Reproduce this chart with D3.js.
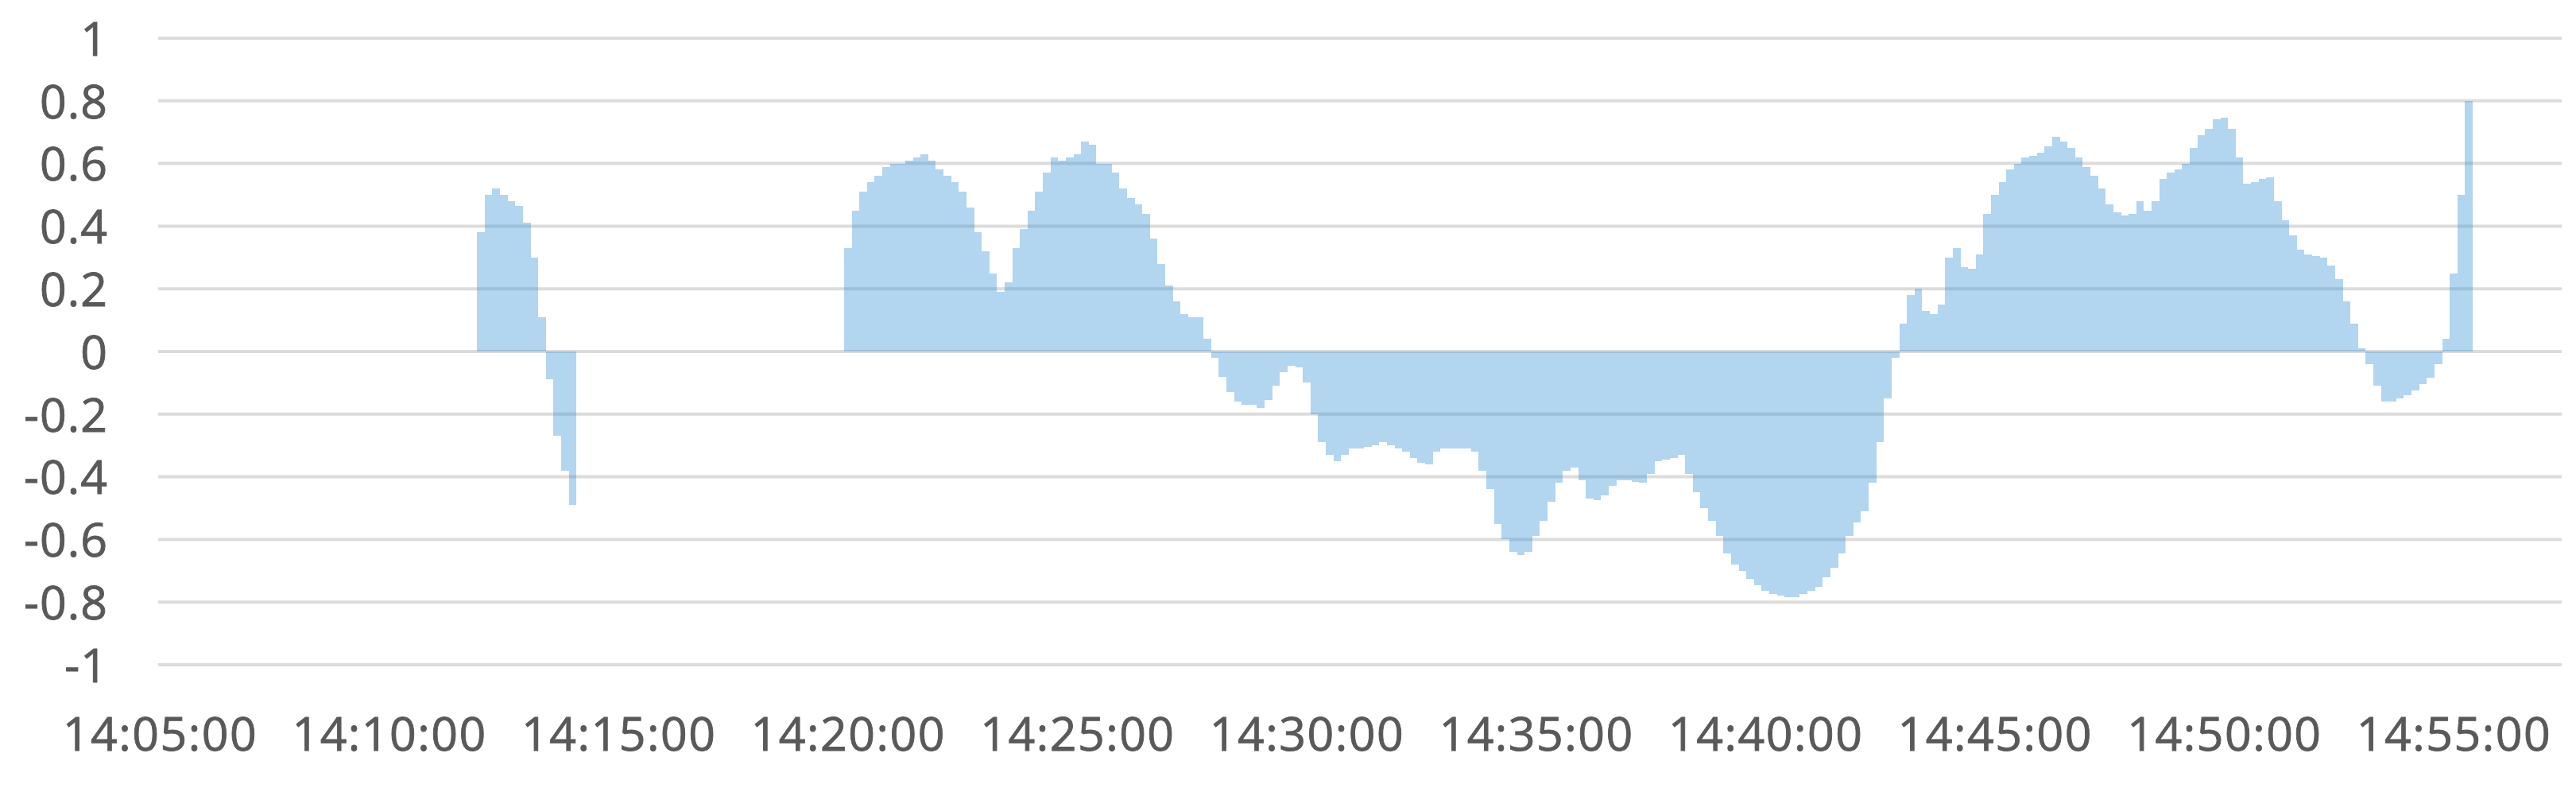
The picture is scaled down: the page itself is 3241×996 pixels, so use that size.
<!DOCTYPE html>
<html>
<head>
<meta charset="utf-8">
<script src="https://cdn.jsdelivr.net/npm/d3@7"></script>
<style>
  html, body { margin: 0; padding: 0; background: #ffffff; }
  svg { display: block; }
  text { font-family: "Open Sans", "Noto Sans", sans-serif; fill: #595959; }
</style>
</head>
<body>
<svg id="chart" width="3241" height="996"></svg>
<script>
// ---------------- data ----------------
const stepSeconds = 10;                 // one bar every 10 s
const xTickLabels = ["14:05:00","14:10:00","14:15:00","14:20:00","14:25:00","14:30:00",
                     "14:35:00","14:40:00","14:45:00","14:50:00","14:55:00"];
const yTickValues = [1, 0.8, 0.6, 0.4, 0.2, 0, -0.2, -0.4, -0.6, -0.8, -1];
const yTickLabels = ["1","0.8","0.6","0.4","0.2","0","-0.2","-0.4","-0.6","-0.8","-1"];

// burst 1 : 14:12:00 - 14:14:00
const startA = "14:12:00";
const valuesA = [0.38,0.50,0.52,0.50,0.48,0.465,0.41,0.30,0.11,-0.09,-0.27,-0.38,-0.49];

// burst 2 : 14:20:00 - 14:22:50
const startB = "14:20:00";
const valuesB = [0.33,0.45,0.51,0.54,0.56,0.59,0.60,0.60,0.61,0.62,0.63,0.61,0.58,0.56,0.54,0.51,0.46,0.38];
// 14:23:00 - 14:27:50
const startC = "14:23:00";
const valuesC = [0.32,0.25,0.19,0.22,0.33,0.39,0.45,0.51,0.57,0.62,0.61,0.62,0.63,0.67,0.66,0.60,0.60,0.57,
                 0.52,0.49,0.47,0.44,0.36,0.28,0.21,0.16,0.12,0.11,0.11,0.04];
// 14:28:00 - 14:36:50
const startD = "14:28:00";
const valuesD = [-0.02,-0.08,-0.13,-0.16,-0.17,-0.17,-0.18,-0.155,-0.11,-0.065,-0.045,-0.05,-0.10,-0.20,-0.29,
                 -0.33,-0.35,-0.33,-0.31,-0.31,-0.305,-0.30,-0.29,-0.30,-0.31,-0.32,-0.34,-0.355,-0.36,-0.32,
                 -0.31,-0.31,-0.31,-0.31,-0.32,-0.38,-0.44,-0.55,-0.60,-0.64,-0.65,-0.64,-0.59,-0.54,-0.48,
                 -0.42,-0.38,-0.37,-0.41,-0.47,-0.475,-0.46,-0.43,-0.41];
// 14:37:00 - 14:42:50
const startE = "14:37:00";
const valuesE = [-0.41,-0.415,-0.42,-0.39,-0.35,-0.345,-0.34,-0.33,-0.39,-0.45,-0.50,-0.54,-0.59,-0.645,-0.68,
                 -0.70,-0.725,-0.745,-0.765,-0.775,-0.78,-0.785,-0.785,-0.775,-0.765,-0.75,-0.72,-0.69,-0.645,
                 -0.59,-0.545,-0.51,-0.42,-0.29,-0.15,-0.02];
// 14:43:00 - 14:49:50
const startF = "14:43:00";
const valuesF = [0.09,0.18,0.20,0.13,0.12,0.15,0.30,0.33,0.27,0.265,0.31,0.44,0.50,0.54,0.58,0.60,0.62,0.625,
                 0.635,0.655,0.685,0.67,0.65,0.62,0.59,0.56,0.52,0.47,0.445,0.435,0.44,0.48,0.45,0.48,0.55,
                 0.57,0.58,0.60,0.65,0.69,0.71,0.74];
// 14:50:00 - 14:55:20
const startG = "14:50:00";
const valuesG = [0.745,0.71,0.62,0.535,0.54,0.55,0.555,0.48,0.42,0.37,0.325,0.31,0.305,0.30,0.275,0.23,0.16,
                 0.09,0.01,-0.04,-0.11,-0.16,-0.16,-0.15,-0.14,-0.125,-0.105,-0.085,-0.04,0.04,0.25,0.50,0.80];

// ---------------- build table ----------------
const toSec = s => { const p = s.split(":").map(Number); return (p[0]-14)*3600 + (p[1]-5)*60 + p[2]; };
const segments = [[startA,valuesA],[startB,valuesB],[startC,valuesC],[startD,valuesD],
                  [startE,valuesE],[startF,valuesF],[startG,valuesG]];
const data = [];
segments.forEach(([st, vals]) => {
  const s0 = toSec(st);
  vals.forEach((v, i) => data.push({ t: s0 + i*stepSeconds, v }));
});

// ---------------- layout ----------------
const W = 3241, H = 996;
const gridLeft = 199, gridRight = 3223;
const svg = d3.select("#chart");
svg.append("rect").attr("width", W).attr("height", H).attr("fill", "#ffffff");

const x = d3.scaleLinear().domain([0, 3000]).range([201, 3087]);
const y = d3.scaleLinear().domain([-1, 1]).range([836, 48]);

// gridlines
svg.append("g").selectAll("line").data(yTickValues).join("line")
  .attr("x1", gridLeft).attr("x2", gridRight)
  .attr("y1", d => y(d)).attr("y2", d => y(d))
  .attr("stroke", "#dcdcdc").attr("stroke-width", 4);

// bars
svg.append("g").selectAll("rect").data(data).join("rect")
  .attr("x", d => x(d.t - stepSeconds/2))
  .attr("width", d => x(d.t + stepSeconds/2) - x(d.t - stepSeconds/2))
  .attr("y", d => Math.min(y(d.v), y(0)))
  .attr("height", d => Math.abs(y(d.v) - y(0)))
  .attr("fill", "rgb(45,140,215)")
  .attr("fill-opacity", 0.37)
  .attr("shape-rendering", "crispEdges");

// y axis labels
const yAxis = d3.axisLeft(y).tickValues(yTickValues)
  .tickFormat((d, i) => yTickLabels[i]).tickSize(0).tickPadding(0);
const gy = svg.append("g").attr("transform", "translate(136,0)").call(yAxis);
gy.select(".domain").remove();
gy.selectAll("text").attr("font-size", 59).attr("font-family", "Open Sans")
  .attr("fill", "#595959").attr("stroke", "#595959").attr("stroke-width", 0.9)
  .attr("letter-spacing", 1).attr("x", 0).attr("dy", "0.36em");

// x axis labels
const xAxis = d3.axisBottom(x).tickValues(xTickLabels.map(toSec))
  .tickFormat((d, i) => xTickLabels[i]).tickSize(0).tickPadding(0);
const gx = svg.append("g").attr("transform", "translate(0,902)").call(xAxis);
gx.select(".domain").remove();
gx.selectAll("text").attr("font-size", 59).attr("font-family", "Open Sans")
  .attr("fill", "#595959").attr("stroke", "#595959").attr("stroke-width", 0.9)
  .attr("letter-spacing", 1.5).attr("y", 0).attr("dy", "0.71em");
</script>
</body>
</html>
